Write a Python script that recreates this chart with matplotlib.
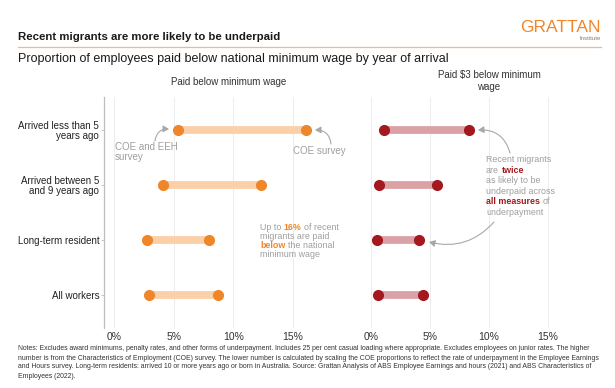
import matplotlib
matplotlib.use("Agg")
import matplotlib.pyplot as plt
from matplotlib.patches import FancyArrowPatch

# ---------------- data ----------------
categories = ["Arrived less than 5\nyears ago", "Arrived between 5\nand 9 years ago",
              "Long-term resident", "All workers"]
below_min_low = [5.4, 4.1, 2.8, 2.9]      # COE and EEH survey
below_min_high = [16.1, 12.3, 8.0, 8.7]   # COE survey
below3_low = [1.1, 0.7, 0.5, 0.6]
below3_high = [8.3, 5.6, 4.1, 4.4]
xticks = [0, 5, 10, 15]
xticklabels = ["0%", "5%", "10%", "15%"]

W, H = 615, 388
FONT = ["Liberation Sans", "DejaVu Sans"]
plt.rcParams["font.family"] = FONT

ORANGE = "#F0862A"
ORANGE_L = "#FBCFA8"
RED = "#A3191F"
RED_L = "#DAA2A6"
GRAY = "#9E9E9E"
GRID = "#EDEDED"

fig = plt.figure(figsize=(W / 100, H / 100), dpi=100)
fig.patch.set_facecolor("white")


def fx(x):
    return x / W


def fy(y):
    return 1 - y / H


def axes_px(x0, x1, y0, y1):
    return fig.add_axes([fx(x0), fy(y1), (x1 - x0) / W, (y1 - y0) / H])


axL = axes_px(104, 340, 97, 328)
axR = axes_px(361, 597, 97, 328)

ypos = list(range(len(categories)))
for ax, lo, hi, cd, cl, xl in [
    (axL, below_min_low, below_min_high, ORANGE, ORANGE_L, (-0.84, 18.94)),
    (axR, below3_low, below3_high, RED, RED_L, (-0.85, 19.2)),
]:
    for yi, a, b in zip(ypos, lo, hi):
        ax.plot([a, b], [yi, yi], color=cl, lw=5.6, solid_capstyle="butt", zorder=2)
        ax.plot([a, b], [yi, yi], "o", color=cd, ms=7, mec=cd, zorder=3)
    ax.set_xlim(*xl)
    ax.set_ylim(3.6, -0.6)
    ax.set_xticks(xticks)
    ax.set_xticklabels(xticklabels, fontsize=7.5, color="#333333")
    ax.tick_params(axis="x", length=0, pad=3)
    ax.grid(axis="x", color=GRID, lw=0.7, zorder=0)
    ax.set_axisbelow(True)
    for s in ["top", "right", "bottom"]:
        ax.spines[s].set_visible(False)

axL.spines["left"].set_color("#BDBDBD")
axL.spines["left"].set_linewidth(0.9)
axL.set_yticks(ypos)
axL.set_yticklabels(categories, fontsize=7, color="#222222", linespacing=1.0)
axL.tick_params(axis="y", length=2.5, width=0.6, color="#BDBDBD", pad=1)
axR.spines["left"].set_visible(False)
axR.set_yticks([])

# panel titles
fig.text(fx(229), fy(82), "Paid below minimum wage", fontsize=7, ha="center", va="center", color="#333333")
fig.text(fx(489), fy(81), "Paid \\$3 below minimum\nwage", fontsize=7, ha="center", va="center",
         color="#333333", linespacing=1.15)

# header
fig.text(fx(18), fy(37), "Recent migrants are more likely to be underpaid", fontsize=8.2,
         fontweight="bold", ha="left", va="center", color="#1a1a1a")
fig.add_artist(plt.Line2D([fx(18), fx(601)], [fy(47), fy(47)], color="#F3B889", lw=0.9))
fig.text(fx(18), fy(59), "Proportion of employees paid below national minimum wage by year of arrival",
         fontsize=9.0, ha="left", va="center", color="#1a1a1a")
fig.text(fx(601), fy(27), "GRATTAN", fontsize=12.5, ha="right", va="center", color=ORANGE)
fig.text(fx(601), fy(38.5), "Institute", fontsize=4.3, ha="right", va="center", color="#8C7B6B")

# notes
notes = [
    "Notes: Excludes award minimums, penalty rates, and other forms of underpayment. Includes 25 per cent casual loading where appropriate. Excludes employees on junior rates. The higher",
    "number is from the Characteristics of Employment (COE) survey. The lower number is calculated by scaling the COE proportions to reflect the rate of underpayment in the Employee Earnings",
    "and Hours survey. Long-term residents: arrived 10 or more years ago or born in Australia. Source: Grattan Analysis of ABS Employee Earnings and hours (2021) and ABS Characteristics of",
    "Employees (2022).",
]
for i, line in enumerate(notes):
    fig.text(fx(18), fy(349 + i * 9), line, fontsize=4.97, ha="left", va="center", color="#333333")

renderer = fig.canvas.get_renderer()


def text_w(s, size, weight):
    t = fig.text(0, 0, s, fontsize=size, fontweight=weight)
    w = t.get_window_extent(renderer).width
    t.remove()
    return w


def rich(x, y, parts, size):
    sp = text_w("x x", size, "normal") - text_w("xx", size, "normal")
    for k, (s, color, weight) in enumerate(parts):
        if k > 0:
            x += sp
        t = fig.text(fx(x), fy(y), s, fontsize=size, fontweight=weight, color=color,
                     ha="left", va="baseline")
        x += t.get_window_extent(renderer).width


# annotations
fig.text(fx(115), fy(152), "COE and EEH\nsurvey", fontsize=7, color=GRAY, ha="left", va="center",
         linespacing=1.0)
fig.text(fx(293), fy(151), "COE survey", fontsize=7, color=GRAY, ha="left", va="center")

AS = 6.4
y0 = 230
rich(260, y0, [("Up to", GRAY, "normal"), ("16%", ORANGE, "bold"), ("of recent", GRAY, "normal")], AS)
rich(260, y0 + 9, [("migrants are paid", GRAY, "normal")], AS)
rich(260, y0 + 18, [("below", ORANGE, "bold"), ("the national", GRAY, "normal")], AS)
rich(260, y0 + 27, [("minimum wage", GRAY, "normal")], AS)

y1 = 162
step = 10.6
rich(486, y1, [("Recent migrants", GRAY, "normal")], AS)
rich(486, y1 + step, [("are", GRAY, "normal"), ("twice", RED, "bold")], AS)
rich(486, y1 + 2 * step, [("as likely to be", GRAY, "normal")], AS)
rich(486, y1 + 3 * step, [("underpaid across", GRAY, "normal")], AS)
rich(486, y1 + 4 * step, [("all measures", RED, "bold"), ("of", GRAY, "normal")], AS)
rich(486, y1 + 5 * step, [("underpayment", GRAY, "normal")], AS)


def arrow(p0, p1, rad):
    a = FancyArrowPatch((fx(p0[0]), fy(p0[1])), (fx(p1[0]), fy(p1[1])),
                        transform=fig.transFigure, connectionstyle=f"arc3,rad={rad}",
                        arrowstyle="-|>,head_length=3.5,head_width=2", color="#A8A8A8",
                        lw=0.8, shrinkA=0, shrinkB=0)
    fig.add_artist(a)


arrow((155, 141), (169, 129), -0.45)
arrow((331, 144), (315, 130), 0.45)
arrow((510, 153), (478, 130), 0.4)
arrow((494, 222), (429, 242), -0.3)

fig.savefig("out.png", dpi=100, facecolor="white")
